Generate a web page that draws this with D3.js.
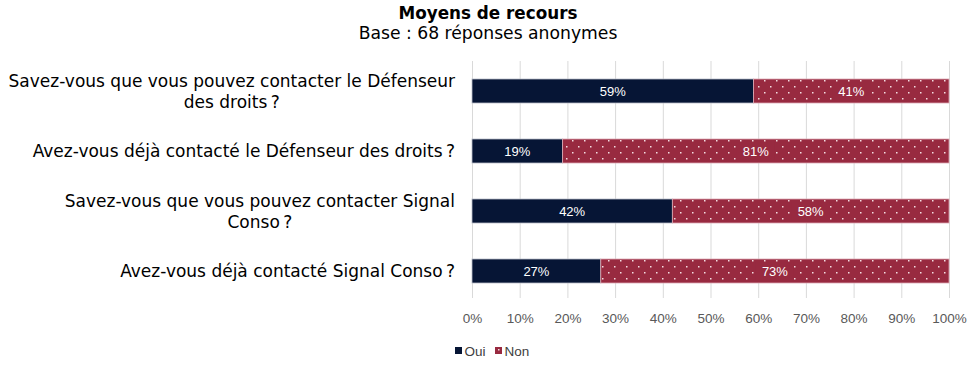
<!DOCTYPE html>
<html>
<head>
<meta charset="utf-8">
<script src="https://cdn.jsdelivr.net/npm/d3@7"></script>
<style>
  body { margin: 0; background: #fff; }
  svg text { font-family: "DejaVu Sans", Verdana, sans-serif; }
  .tick text, .barlab, .legend text { font-family: "Liberation Sans", Arial, sans-serif; }
</style>
</head>
<body>
<div id="chart"></div>
<script>
// Moyens de recours - stacked 100% horizontal bars

var questions = [
  ["Savez-vous que vous pouvez contacter le Défenseur", "des droits\u202F?"],
  ["Avez-vous déjà contacté le Défenseur des droits\u202F?"],
  ["Savez-vous que vous pouvez contacter Signal", "Conso\u202F?"],
  ["Avez-vous déjà contacté Signal Conso\u202F?"]
];
var oui = [59, 19, 42, 27];
var non = [41, 81, 58, 73];
var seriesNames = ["Oui", "Non"];
var tickValues = [0, 10, 20, 30, 40, 50, 60, 70, 80, 90, 100];

var width = 980, height = 371;
var navy = "#061535", red = "#982a40";

var svg = d3.select("#chart").append("svg")
    .attr("width", width)
    .attr("height", height);

// dotted fill for "Non"
var defs = svg.append("defs");
var pat = defs.append("pattern")
    .attr("id", "dots")
    .attr("patternUnits", "userSpaceOnUse")
    .attr("width", 12).attr("height", 12);
pat.append("rect").attr("width", 12).attr("height", 12).attr("fill", red);
pat.append("rect").attr("x", 2).attr("y", 2).attr("width", 1.5).attr("height", 1.5).attr("fill", "#f4dde2");
pat.append("rect").attr("x", 8).attr("y", 8).attr("width", 1.5).attr("height", 1.5).attr("fill", "#f4dde2");

var x = d3.scaleLinear().domain([0, 100]).range([472, 949]);
var y = d3.scaleBand().domain(d3.range(questions.length)).range([61, 301]).paddingInner(0.6).paddingOuter(0.3);

// title
svg.append("text")
    .attr("x", 488).attr("y", 19)
    .attr("text-anchor", "middle")
    .attr("font-size", 16.8).attr("font-weight", "bold")
    .text("Moyens de recours");
svg.append("text")
    .attr("x", 488).attr("y", 39)
    .attr("text-anchor", "middle")
    .attr("font-size", 17.2)
    .text("Base : 68 réponses anonymes");

// gridlines + axis labels
var axis = d3.axisBottom(x)
    .tickValues(tickValues)
    .tickFormat(function(d) { return d + "%"; })
    .tickSize(-(298 - 61))
    .tickPadding(15);

var gAxis = svg.append("g")
    .attr("transform", "translate(0,298)")
    .call(axis);
gAxis.select(".domain").remove();
gAxis.selectAll(".tick line").attr("stroke", "#d9d9d9");
gAxis.selectAll(".tick text").attr("fill", "#595959").attr("font-size", 13.5);

// bars
var rows = svg.append("g").selectAll("g")
    .data(questions)
    .enter().append("g");

rows.append("rect")
    .attr("x", x(0))
    .attr("y", function(d, i) { return y(i); })
    .attr("width", function(d, i) { return x(oui[i]) - x(0); })
    .attr("height", y.bandwidth())
    .attr("fill", navy)
    .attr("stroke", "#b8bcc8").attr("stroke-width", 0.8);

rows.append("rect")
    .attr("x", function(d, i) { return x(oui[i]); })
    .attr("y", function(d, i) { return y(i); })
    .attr("width", function(d, i) { return x(oui[i] + non[i]) - x(oui[i]); })
    .attr("height", y.bandwidth())
    .attr("fill", "url(#dots)")
    .attr("stroke", "#dca9b3").attr("stroke-width", 0.8);

// solid patch behind the "Non" label so the dots don't cross it
rows.append("rect")
    .attr("x", function(d, i) { return x(oui[i] + non[i] / 2) - 19; })
    .attr("y", function(d, i) { return y(i) + 3; })
    .attr("width", 38)
    .attr("height", y.bandwidth() - 6)
    .attr("fill", red);

rows.append("text")
    .attr("class", "barlab")
    .attr("x", function(d, i) { return x(oui[i] / 2); })
    .attr("y", function(d, i) { return y(i) + y.bandwidth() / 2 + 4.5; })
    .attr("text-anchor", "middle")
    .attr("fill", "#fff").attr("font-size", 13)
    .text(function(d, i) { return oui[i] + "%"; });

rows.append("text")
    .attr("class", "barlab")
    .attr("x", function(d, i) { return x(oui[i] + non[i] / 2); })
    .attr("y", function(d, i) { return y(i) + y.bandwidth() / 2 + 4.5; })
    .attr("text-anchor", "middle")
    .attr("fill", "#fff").attr("font-size", 13)
    .text(function(d, i) { return non[i] + "%"; });

// category labels (centred block, right aligned to axis)
var lineH = 21;
rows.each(function(lines, i) {
  var cy = y(i) + y.bandwidth() / 2;
  var t = d3.select(this).append("text")
      .attr("font-size", 17).attr("fill", "#000")
      .attr("text-anchor", "middle");
  var y0 = cy - (lines.length - 1) * lineH / 2 + 6;
  lines.forEach(function(l, k) {
    t.append("tspan").attr("x", 0).attr("y", y0 + k * lineH).text(l);
  });
  // measure widest line, right-align the block at x=455
  var w = t.node().getBBox().width;
  t.selectAll("tspan").attr("x", 455 - w / 2);
});

// legend
var legend = svg.append("g").attr("class", "legend").attr("transform", "translate(455,351)");
var fills = [navy, red];
var lx = [0, 40];
seriesNames.forEach(function(n, i) {
  legend.append("rect").attr("x", lx[i]).attr("y", -4).attr("width", 7).attr("height", 7).attr("fill", fills[i]);
  legend.append("text").attr("x", lx[i] + 9.5).attr("y", 4.5).attr("font-size", 13.5).attr("fill", "#404040").text(n);
});
legend.append("rect").attr("x", lx[1] + 3).attr("y", -2).attr("width", 1.5).attr("height", 1.5).attr("fill", "#f4dde2");
</script>
</body>
</html>
